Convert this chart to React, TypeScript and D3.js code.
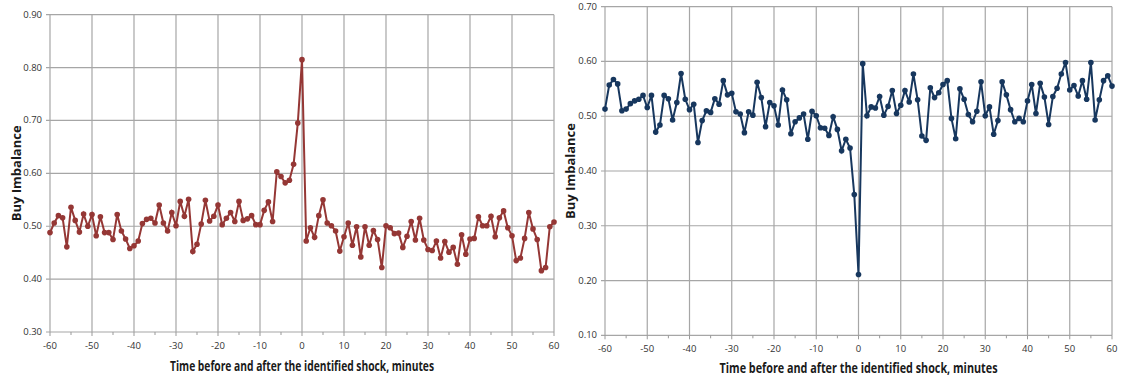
import React from "react";
import * as d3 from "d3";

// minutes relative to the identified shock
const minutes = d3.range(-60, 61);

// left panel: buy imbalance around a positive shock
const upShock = [
  0.488, 0.506, 0.52, 0.516, 0.461, 0.536, 0.511, 0.489, 0.523, 0.5,
  0.522, 0.482, 0.518, 0.488, 0.488, 0.475, 0.522, 0.491, 0.476, 0.458,
  0.463, 0.472, 0.505, 0.513, 0.515, 0.506, 0.54, 0.506, 0.491, 0.526,
  0.501, 0.547, 0.519, 0.551, 0.452, 0.466, 0.504, 0.549, 0.51, 0.519,
  0.54, 0.503, 0.515, 0.526, 0.509, 0.547, 0.511, 0.514, 0.52, 0.503,
  0.503, 0.53, 0.546, 0.509, 0.603, 0.594, 0.582, 0.587, 0.617, 0.695,
  0.815,
  0.472, 0.497, 0.479, 0.52, 0.55, 0.506, 0.501, 0.491, 0.453, 0.48,
  0.506, 0.464, 0.499, 0.442, 0.499, 0.464, 0.492, 0.475, 0.422, 0.501,
  0.497, 0.486, 0.487, 0.46, 0.481, 0.509, 0.474, 0.515, 0.474, 0.456,
  0.454, 0.472, 0.44, 0.471, 0.451, 0.46, 0.428, 0.484, 0.447, 0.476,
  0.477, 0.518, 0.501, 0.501, 0.519, 0.48, 0.516, 0.529, 0.497, 0.482,
  0.435, 0.44, 0.477, 0.526, 0.495, 0.475, 0.416, 0.422, 0.499, 0.508,
];

// right panel: buy imbalance around a negative shock
const downShock = [
  0.513, 0.557, 0.567, 0.559, 0.51, 0.513, 0.523, 0.528, 0.531, 0.538,
  0.516, 0.538, 0.471, 0.484, 0.538, 0.532, 0.493, 0.525, 0.578, 0.531,
  0.512, 0.522, 0.452, 0.492, 0.51, 0.507, 0.532, 0.522, 0.565, 0.539,
  0.542, 0.508, 0.504, 0.47, 0.508, 0.502, 0.562, 0.534, 0.481, 0.525,
  0.519, 0.484, 0.548, 0.53, 0.468, 0.49, 0.497, 0.504, 0.458, 0.509,
  0.501, 0.479, 0.478, 0.465, 0.499, 0.476, 0.437, 0.458, 0.442, 0.357,
  0.211,
  0.596, 0.501, 0.517, 0.515, 0.536, 0.502, 0.518, 0.547, 0.505, 0.52,
  0.547, 0.526, 0.577, 0.53, 0.464, 0.456, 0.552, 0.534, 0.543, 0.558,
  0.565, 0.496, 0.459, 0.55, 0.531, 0.503, 0.49, 0.509, 0.563, 0.501,
  0.517, 0.467, 0.492, 0.563, 0.539, 0.512, 0.49, 0.496, 0.49, 0.528,
  0.558, 0.505, 0.56, 0.535, 0.485, 0.536, 0.551, 0.577, 0.598, 0.548,
  0.556, 0.537, 0.565, 0.531, 0.598, 0.493, 0.53, 0.565, 0.574, 0.555,
];

const xTicks = d3.range(-60, 61, 10);
const leftYTicks = [0.3, 0.4, 0.5, 0.6, 0.7, 0.8, 0.9];
const rightYTicks = [0.1, 0.2, 0.3, 0.4, 0.5, 0.6, 0.7];

const xTitle = "Time before and after the identified shock, minutes";
const yTitle = "Buy Imbalance";

type PanelProps = {
  values: number[];
  yTicks: number[];
  color: string;
  x0: number;
  x1: number;
  y0: number;
  y1: number;
  yTitleX: number;
  xTitleY: number;
  xTitleWidth: number;
};

function Panel({ values, yTicks, color, x0, x1, y0, y1, yTitleX, xTitleY, xTitleWidth }: PanelProps) {
  const x = d3.scaleLinear().domain([-60, 60]).range([x0, x1]);
  const y = d3
    .scaleLinear()
    .domain([yTicks[0], yTicks[yTicks.length - 1]])
    .range([y1, y0]);

  const line = d3
    .line<number>()
    .x((_, i) => x(minutes[i]))
    .y((d) => y(d));

  const minor = d3.range(-55, 60, 10);

  return (
    <g>
      {/* gridlines */}
      {xTicks.map((t) => (
        <line key={"gx" + t} x1={x(t)} x2={x(t)} y1={y0} y2={y1} stroke="#a6a6a6" strokeWidth={1.2} />
      ))}
      {yTicks.map((t) => (
        <line key={"gy" + t} x1={x0 - 4} x2={x1} y1={y(t)} y2={y(t)} stroke="#a6a6a6" strokeWidth={1.2} />
      ))}
      {/* axis ticks */}
      {xTicks.map((t) => (
        <line key={"tx" + t} x1={x(t)} x2={x(t)} y1={y1} y2={y1 + 4} stroke="#999" />
      ))}
      {minor.map((t) => (
        <line key={"mx" + t} x1={x(t)} x2={x(t)} y1={y1} y2={y1 + 3} stroke="#999" />
      ))}
      {/* tick labels */}
      {xTicks.map((t) => (
        <text key={"lx" + t} x={x(t)} y={y1 + 17} textAnchor="middle" fontSize={9.5} fill="#333">
          {t}
        </text>
      ))}
      {yTicks.map((t) => (
        <text key={"ly" + t} x={x0 - 8} y={y(t) + 3} textAnchor="end" fontSize={9.5} fill="#333">
          {t.toFixed(2)}
        </text>
      ))}
      {/* series */}
      <path d={line(values) || ""} fill="none" stroke={color} strokeWidth={2} />
      {values.map((v, i) => (
        <circle key={i} cx={x(minutes[i])} cy={y(v)} r={2.8} fill={color} />
      ))}
      {/* titles */}
      <text
        x={(x0 + x1) / 2}
        y={xTitleY}
        textAnchor="middle"
        fontSize={13.5}
        fontWeight="bold"
        fill="#1a1a1a"
        textLength={xTitleWidth}
        lengthAdjust="spacingAndGlyphs"
      >
        {xTitle}
      </text>
      <text
        transform={`translate(${yTitleX},${(y0 + y1) / 2}) rotate(-90)`}
        textAnchor="middle"
        fontSize={13}
        fontWeight="bold"
        fill="#1a1a1a"
      >
        {yTitle}
      </text>
    </g>
  );
}

export default function App() {
  return (
    <svg
      width={1121}
      height={380}
      style={{ position: "absolute", left: 0, top: 0, fontFamily: "'Open Sans', sans-serif", background: "#fff" }}
    >
      <rect width={1121} height={380} fill="#fff" />
      <Panel
        values={upShock}
        yTicks={leftYTicks}
        color="#953735"
        x0={50}
        x1={554}
        y0={14.7}
        y1={332}
        yTitleX={21}
        xTitleY={371}
        xTitleWidth={264}
      />
      <Panel
        values={downShock}
        yTicks={rightYTicks}
        color="#17375e"
        x0={605}
        x1={1112}
        y0={6.7}
        y1={335.3}
        yTitleX={575}
        xTitleY={373}
        xTitleWidth={278}
      />
    </svg>
  );
}
